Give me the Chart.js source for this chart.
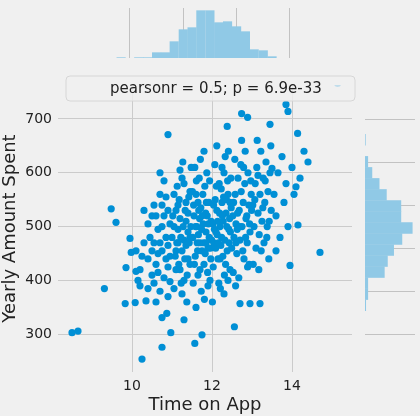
<!DOCTYPE html>
<html>
<head>
<meta charset="utf-8">
<script src="https://cdn.jsdelivr.net/npm/chart.js@4"></script>
<style>
  body { margin: 0; background: #f0f0f0; }
  canvas { position: absolute; }
  #main { left: 0; top: 0; }
  #top { left: 0; top: 0; }
  #right { left: 352px; top: 0; }
</style>
</head>
<body>
<canvas id="main" width="420" height="416" style="width:420px;height:416px"></canvas>
<canvas id="top" width="420" height="62" style="width:420px;height:62px"></canvas>
<canvas id="right" width="68" height="416" style="width:68px;height:416px"></canvas>
<script>
// scatter: [time on app, yearly amount spent]
const points = [
  [10.9,671],[15.14,766],[13.85,727],[13.9,714],[12.74,710],[12.89,703],[12.38,686],[13.45,690],[14.14,673],
  [8.5,303],[8.65,306],[9.31,385],[9.83,357],[10.08,359],[10.25,254],[10.75,276],[10.75,331],[10.87,339],
  [10.97,303],[11.3,327],[11.57,283],[11.75,299],[9.48,533],[9.6,508],[9.95,478],[9.98,452],[9.85,424],[10.1,417],
  [14.15,503],[14.7,452],[13.95,428],[14.1,574],[13.5,608],[12.56,314],[13.2,357],[12.95,357],[12.7,357],
  [10.1,455],[10.2,420],[10.3,470],[10.4,440],[10.2,390],[10.4,505],[10.5,410],[10.3,530],[10.45,480],[10.15,400],
  [10.35,362],[10.5,455],[10.25,445],[10.4,385],[10.5,520],
  [10.55,470],[10.6,430],[10.65,495],[10.7,560],[10.75,455],[10.8,405],[10.6,520],[10.7,380],[10.85,480],[10.9,530],
  [10.95,445],[10.55,540],[10.65,415],[10.75,500],[10.8,585],[10.9,465],[10.95,398],[10.6,360],[10.7,470],[10.85,555],
  [10.9,425],[10.55,395],[10.75,540],[10.95,505],[10.65,450],[10.8,520],[10.85,440],[10.7,600],[10.9,370],[11.0,480],
  [11.05,500],[11.1,455],[11.15,540],[11.2,420],[11.25,590],[11.3,475],[11.35,510],[11.4,440],[11.45,565],[11.05,385],
  [11.1,530],[11.15,470],[11.2,605],[11.25,455],[11.3,400],[11.35,545],[11.4,490],[11.45,430],[11.05,560],[11.1,420],
  [11.15,495],[11.2,515],[11.25,375],[11.3,580],[11.35,465],[11.4,525],[11.45,480],[11.08,445],[11.18,550],[11.28,500],
  [11.38,410],[11.48,610],[11.12,470],[11.22,480],[11.32,440],[11.42,555],[11.02,520],[11.27,620],[11.37,360],[11.47,500],
  [11.17,430],[11.33,530],[11.43,470],[11.23,395],[11.13,575],
  [11.52,480],[11.55,520],[11.58,445],[11.6,560],[11.62,500],[11.65,410],[11.68,590],[11.7,470],[11.72,535],[11.75,455],
  [11.78,505],[11.8,430],[11.82,575],[11.85,490],[11.88,520],[11.9,460],[11.92,545],[11.95,400],[11.98,510],[11.53,395],
  [11.57,610],[11.63,470],[11.67,530],[11.73,380],[11.77,560],[11.83,450],[11.87,600],[11.93,480],[11.97,440],[11.54,540],
  [11.59,500],[11.64,455],[11.69,515],[11.74,495],[11.79,470],[11.84,525],[11.89,415],[11.94,585],[11.99,475],[11.56,430],
  [11.61,585],[11.66,485],[11.71,625],[11.76,520],[11.81,365],[11.86,545],[11.91,505],[11.96,460],[11.51,565],[11.6,350],
  [11.7,420],[11.8,640],[11.9,390],[11.65,545],[11.85,470],
  [12.02,505],[12.05,470],[12.08,550],[12.1,490],[12.12,530],[12.15,440],[12.18,580],[12.2,500],[12.22,465],[12.25,545],
  [12.28,510],[12.3,600],[12.32,475],[12.35,525],[12.38,455],[12.4,560],[12.42,495],[12.45,420],[12.48,535],[12.03,425],
  [12.07,615],[12.13,485],[12.17,395],[12.23,570],[12.27,445],[12.33,630],[12.37,500],[12.43,470],[12.47,590],[12.04,540],
  [12.09,460],[12.14,510],[12.19,525],[12.24,480],[12.29,555],[12.34,430],[12.39,585],[12.44,515],[12.49,460],[12.06,495],
  [12.11,575],[12.16,470],[12.21,385],[12.26,520],[12.31,410],[12.36,550],[12.41,640],[12.46,490],[12.01,360],[12.12,650],
  [12.2,440],[12.3,375],[12.4,400],[12.25,610],[12.45,545],
  [12.52,520],[12.55,480],[12.58,560],[12.6,505],[12.62,450],[12.65,590],[12.68,530],[12.7,475],[12.72,615],[12.75,500],
  [12.78,545],[12.8,440],[12.82,580],[12.85,515],[12.88,470],[12.9,600],[12.92,540],[12.95,490],[12.98,560],[12.53,415],
  [12.57,625],[12.63,495],[12.67,405],[12.73,565],[12.77,455],[12.83,640],[12.87,520],[12.93,430],[12.97,585],[12.54,545],
  [12.64,525],[12.74,660],[12.84,480],[12.94,505],[12.59,390],[12.69,500],[12.79,610],[12.89,425],[12.99,530],[12.6,470],
  [13.02,540],[13.05,500],[13.08,580],[13.1,460],[13.12,610],[13.15,525],[13.18,485],[13.2,560],[13.22,640],[13.25,510],
  [13.28,590],[13.3,470],[13.32,545],[13.35,620],[13.38,500],[13.4,565],[13.42,440],[13.45,600],[13.48,530],[13.03,430],
  [13.13,660],[13.23,455],[13.33,585],[13.43,510],[13.07,550],[13.17,420],[13.27,535],[13.37,480],[13.47,650],[13.15,595],
  [13.55,560],[13.6,520],[13.65,600],[13.7,480],[13.75,630],[13.8,545],[13.85,580],[13.9,500],[14.0,610],[14.05,560],
  [14.2,590],[14.3,640],[14.4,620],[13.6,455]
];

// marginal histograms (bin centres and counts)
const timeBins = [8.68,9.01,9.34,9.67,10.01,10.34,10.67,11.01,11.34,11.67,12.01,12.34,12.67,13.01,13.34,13.67,14.01,14.34];
const timeCounts = [2,0,2,2,17,17,50,86,92,143,143,107,110,95,80,26,23,5];
const spendBins = [702.5,676.9,651.3,625.7,600.1,574.5,548.9,523.3,497.7,472.1,446.5,420.9,395.3,369.7,344.1,318.5];
const spendCounts = [2,0,9,21,42,63,105,105,138,108,84,66,57,9,9,3];

const xTicks = [10, 12, 14];
const yTicks = [300, 400, 500, 600, 700];
const statText = "pearsonr = 0.5; p = 6.9e-33";

const blue = "#008fd5";
const histBlue = "#90c9e6";
const gridColor = "#cbcbcb";
const histGrid = "rgba(110,110,110,0.35)";
const font = "'DejaVu Sans', sans-serif";
Chart.defaults.font.family = font;
Chart.defaults.color = "#222";

const fixTicks = (vals) => (scale) => { scale.ticks = vals.map(v => ({ value: v })); };

const statBox = {
  id: "statBox",
  afterDatasetsDraw(chart) {
    const ctx = chart.ctx;
    ctx.save();
    ctx.beginPath();
    ctx.roundRect(66, 76, 289, 25, 4);
    ctx.fillStyle = "rgba(240,240,240,0.8)";
    ctx.fill();
    ctx.strokeStyle = "#d6d6d6";
    ctx.lineWidth = 1;
    ctx.stroke();
    ctx.fillStyle = "#222";
    ctx.font = "15px " + font;
    ctx.textBaseline = "middle";
    ctx.fillText(statText, 110, 89);
    ctx.restore();
  }
};

new Chart(document.getElementById("main"), {
  type: "scatter",
  data: {
    datasets: [{
      data: points.map(p => ({ x: p[0], y: p[1] })),
      backgroundColor: blue,
      borderWidth: 0,
      pointRadius: 3.6
    }]
  },
  options: {
    responsive: false,
    animation: false,
    layout: { padding: { left: 0, right: 68, top: 85, bottom: 0 } },
    plugins: { legend: { display: false }, tooltip: { enabled: false } },
    scales: {
      x: {
        min: 8.15, max: 15.5,
        afterBuildTicks: fixTicks(xTicks),
        afterFit: (s) => { s.height = 44; },
        grid: { color: gridColor, lineWidth: 1, drawTicks: false },
        border: { display: false },
        ticks: { font: { size: 14 }, padding: 6 },
        title: { display: true, text: "Time on App", font: { size: 18 }, padding: 0 }
      },
      y: {
        min: 230, max: 763,
        afterBuildTicks: fixTicks(yTicks),
        afterFit: (s) => { s.width = 58; },
        grid: { color: gridColor, lineWidth: 1, drawTicks: false },
        border: { display: false },
        ticks: { font: { size: 14 }, padding: 6 },
        title: { display: true, text: "Yearly Amount Spent", font: { size: 18 }, padding: 0 }
      }
    }
  },
  plugins: [statBox]
});

new Chart(document.getElementById("top"), {
  type: "bar",
  data: {
    datasets: [{
      data: timeBins.map((b, i) => ({ x: b, y: timeCounts[i] })),
      backgroundColor: histBlue,
      borderWidth: 0,
      barPercentage: 1.04,
      categoryPercentage: 1
    }]
  },
  options: {
    responsive: false,
    animation: false,
    layout: { padding: { left: 58, right: 68, top: 8, bottom: 4 } },
    plugins: { legend: { display: false }, tooltip: { enabled: false } },
    scales: {
      x: {
        type: "linear", min: 8.15, max: 15.5, z: 1,
        afterBuildTicks: fixTicks(xTicks),
        afterFit: (s) => { s.height = 0; },
        grid: { color: histGrid, drawTicks: false },
        border: { display: false },
        ticks: { display: false }
      },
      y: {
        min: 0, max: 150,
        afterFit: (s) => { s.width = 0; },
        grid: { display: false },
        border: { display: false },
        ticks: { display: false }
      }
    }
  }
});

new Chart(document.getElementById("right"), {
  type: "bar",
  data: {
    datasets: [{
      data: spendBins.map((b, i) => ({ y: b, x: spendCounts[i] })),
      backgroundColor: histBlue,
      borderWidth: 0,
      barPercentage: 1.04,
      categoryPercentage: 1
    }]
  },
  options: {
    indexAxis: "y",
    responsive: false,
    animation: false,
    layout: { padding: { left: 13, right: 5, top: 85, bottom: 44 } },
    plugins: { legend: { display: false }, tooltip: { enabled: false } },
    scales: {
      y: {
        type: "linear", min: 230, max: 763, z: 1,
        afterBuildTicks: fixTicks(yTicks),
        afterFit: (s) => { s.width = 0; },
        grid: { color: histGrid, drawTicks: false },
        border: { display: false },
        ticks: { display: false }
      },
      x: {
        min: 0, max: 145,
        afterFit: (s) => { s.height = 0; },
        grid: { display: false },
        border: { display: false },
        ticks: { display: false }
      }
    }
  }
});
</script>
</body>
</html>
